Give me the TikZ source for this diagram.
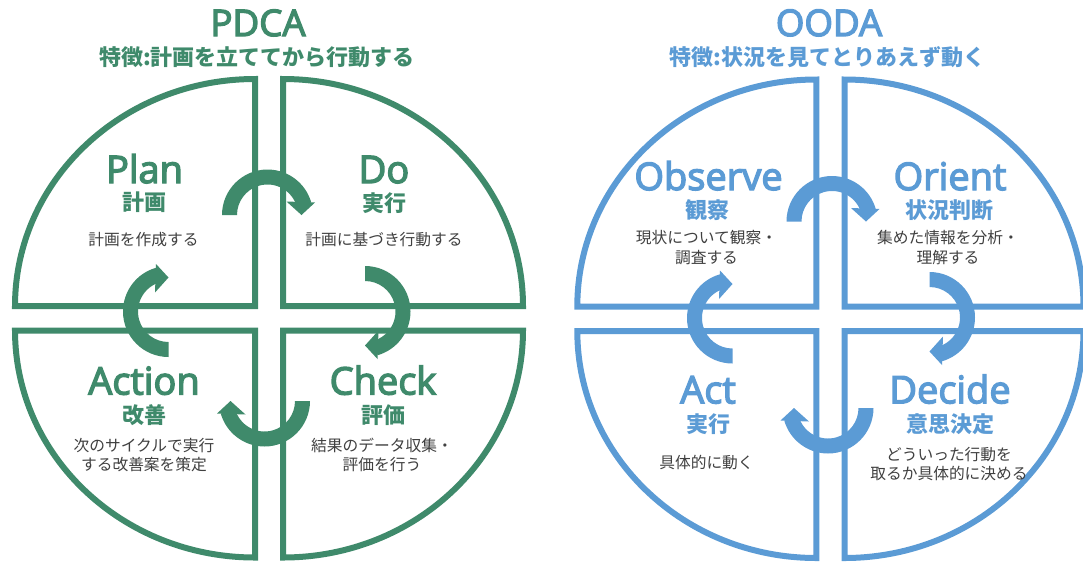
\documentclass[tikz,border=0pt]{standalone}
\usepackage{fontspec}
\setmainfont{Noto Sans CJK JP}
\newfontfamily\jp{Noto Sans CJK JP}
\newfontfamily\lat{Open Sans}[FakeBold=3.5]
\definecolor{pgreen}{HTML}{3F8A6B}
\definecolor{oblue}{HTML}{5B9BD5}
\definecolor{descgray}{HTML}{404040}
\begin{document}
\begin{tikzpicture}[x=0.75pt,y=0.75pt,line join=miter,
  quad/.style={line width=4.5pt,fill=white},
  bigword/.style={font=\lat\fontsize{28.5}{30}\selectfont,anchor=base,inner sep=0pt},
  ttl/.style={font=\lat\fontsize{27.5}{30}\selectfont,anchor=base,inner sep=0pt},
  subttl/.style={font=\jp\bfseries\fontsize{16.5}{18}\selectfont,inner sep=0pt},
  jphead/.style={font=\jp\bfseries\fontsize{16.5}{18}\selectfont,inner sep=0pt},
  desc/.style={font=\jp\fontsize{11.8}{14.6}\selectfont,text=descgray,align=center,inner sep=0pt},
  carrow/.pic={
    \fill (180:45.5) arc[start angle=180,end angle=16,radius=45.5]
      -- (16:30.5) arc[start angle=16,end angle=180,radius=30.5] -- cycle;
    \fill (47.5,12.5) -- (34,0) -- (19,13.5) -- cycle;
  }]
\useasboundingbox (0,0) rectangle (1083,-562);

% ---------------- PDCA ----------------
\begin{scope}[draw=pgreen]
\draw[quad] (255,-306) -- (15,-306) arc[start angle=180,end angle=90,x radius=240,y radius=227] -- cycle;
\draw[quad] (283,-306) -- (283,-79) arc[start angle=90,end angle=0,x radius=240,y radius=227] -- cycle;
\draw[quad] (255,-330.5) -- (255,-557.5) arc[start angle=270,end angle=180,x radius=240,y radius=227] -- cycle;
\draw[quad] (283,-330.5) -- (523,-330.5) arc[start angle=0,end angle=-90,x radius=240,y radius=227] -- cycle;
\end{scope}
\pic[fill=pgreen] at (267.5,-215) {carrow};
\pic[fill=pgreen,rotate=-90] at (365,-311.5) {carrow};
\pic[fill=pgreen,rotate=-180] at (264.5,-401) {carrow};
\pic[fill=pgreen,rotate=90] at (168.5,-311.5) {carrow};

\node[ttl,text=pgreen] (pdca) at (258,-36) {PDCA};
\node[subttl,text=pgreen] (pdcasub) at (257,-57) {特徴:計画を立ててから行動する};

\node[bigword,text=pgreen] (plan) at (144.5,-183) {Plan};
\node[jphead,text=pgreen] (planj) at (144.5,-202.5) {計画};
\node[desc] (pland) at (143.5,-240) {計画を作成する};

\node[bigword,text=pgreen] (do) at (384,-183) {Do};
\node[jphead,text=pgreen] (doj) at (384,-203) {実行};
\node[desc] (dod) at (384,-240) {計画に基づき行動する};

\node[bigword,text=pgreen] (action) at (144,-394.5) {Action};
\node[jphead,text=pgreen] (actionj) at (144,-415.5) {改善};
\node[desc] (actiond) at (144,-455) {次のサイクルで実行\\する改善案を策定};

\node[bigword,text=pgreen] (check) at (383,-394.5) {Check};
\node[jphead,text=pgreen] (checkj) at (383,-415.5) {評価};
\node[desc] (checkd) at (382,-455) {結果のデータ収集・\\評価を行う};

% ---------------- OODA ----------------
\begin{scope}[draw=oblue]
\draw[quad] (816.3,-306.5) -- (577.3,-306.5) arc[start angle=180,end angle=90,x radius=239,y radius=227] -- cycle;
\draw[quad] (844.5,-306.5) -- (844.5,-79.5) arc[start angle=90,end angle=0,x radius=239,y radius=227] -- cycle;
\draw[quad] (816.3,-331) -- (816.3,-558) arc[start angle=270,end angle=180,x radius=239,y radius=227] -- cycle;
\draw[quad] (844.5,-331) -- (1083.5,-331) arc[start angle=0,end angle=-90,x radius=239,y radius=227] -- cycle;
\end{scope}
\pic[fill=oblue] at (832,-221.5) {carrow};
\pic[fill=oblue,rotate=-90] at (929.5,-317.5) {carrow};
\pic[fill=oblue,rotate=-180] at (828,-408) {carrow};
\pic[fill=oblue,rotate=90] at (732.5,-318) {carrow};

\node[ttl,text=oblue] (ooda) at (829,-36) {OODA};
\node[subttl,text=oblue] (oodasub) at (827.5,-57) {特徴:状況を見てとりあえず動く};

\node[bigword,text=oblue] (observe) at (708.5,-190) {Observe};
\node[jphead,text=oblue] (observej) at (707.5,-210) {観察};
\node[desc] (observed) at (706.5,-247.5) {現状について観察・\\調査する};

\node[bigword,text=oblue] (orient) at (950,-190) {Orient};
\node[jphead,text=oblue] (orientj) at (949,-210) {状況判断};
\node[desc] (orientd) at (948,-247.5) {集めた情報を分析・\\理解する};

\node[bigword,text=oblue] (act) at (708,-403.3) {Act};
\node[jphead,text=oblue] (actj) at (708.5,-424) {実行};
\node[desc] (actd) at (706.5,-462.5) {具体的に動く};

\node[bigword,text=oblue] (decide) at (950,-403.3) {Decide};
\node[jphead,text=oblue] (decidej) at (950,-424) {意思決定};
\node[desc] (decided) at (949,-464) {どういった行動を\\取るか具体的に決める};
\end{tikzpicture}
\end{document}
